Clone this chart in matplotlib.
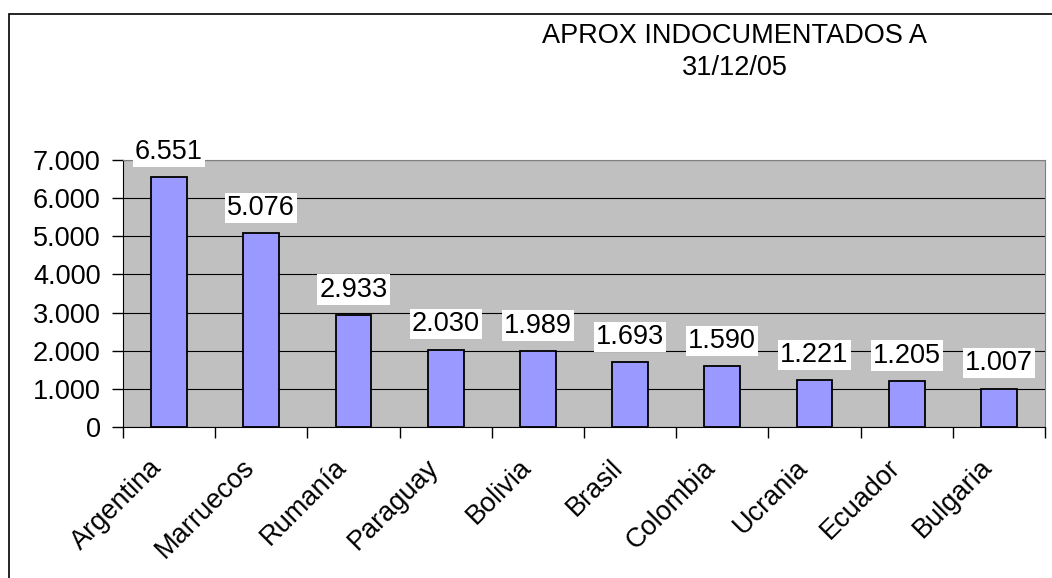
import matplotlib.pyplot as plt
import matplotlib.transforms as mtransforms
from matplotlib.patches import Rectangle
from matplotlib.ticker import FuncFormatter, MultipleLocator

plt.rcParams['font.family'] = ['Liberation Sans', 'DejaVu Sans']

paises = ['Argentina', 'Marruecos', 'Rumanía', 'Paraguay', 'Bolivia',
          'Brasil', 'Colombia', 'Ucrania', 'Ecuador', 'Bulgaria']
indocumentados = [6551, 5076, 2933, 2030, 1989, 1693, 1590, 1221, 1205, 1007]
titulo = 'APROX INDOCUMENTADOS A\n31/12/05'


def miles(v, pos=None):
    return f"{int(v):,}".replace(',', '.')


W, H = 1052, 578
fs = 19.5
fig = plt.figure(figsize=(W / 100, H / 100), dpi=100)
fig.patch.set_facecolor('white')

# outer chart frame (right and bottom edges fall outside the picture)
fig.add_artist(Rectangle((9 / W, -0.2), 1.2, 1.2 - 14 / H, transform=fig.transFigure,
                         fill=False, edgecolor='black', linewidth=1.2))

ax = fig.add_axes([123 / W, 1 - 427 / H, (1045 - 123) / W, (427 - 160) / H])
ax.set_facecolor('#c0c0c0')

x = range(len(paises))
ax.bar(x, indocumentados, width=0.39, color='#9999ff',
       edgecolor='black', linewidth=1.3, zorder=3)

for xi, v in zip(x, indocumentados):
    ax.annotate(miles(v), (xi, v), xytext=(0, 9), textcoords='offset points',
                ha='center', va='bottom', fontsize=fs, zorder=4,
                bbox=dict(facecolor='white', edgecolor='none', pad=1.5),
                annotation_clip=False)

ax.set_xlim(-0.5, len(paises) - 0.5)
ax.set_ylim(0, 7000)
ax.yaxis.set_major_locator(MultipleLocator(1000))
ax.yaxis.set_major_formatter(FuncFormatter(miles))
ax.grid(axis='y', color='black', linewidth=0.8, zorder=1)

ax.set_xticks([i - 0.5 for i in range(len(paises) + 1)])
ax.set_xticklabels([])
ax.set_xticks(list(x), minor=True)
ax.set_xticklabels(paises, minor=True, rotation=45, ha='right',
                   rotation_mode='anchor', fontsize=fs)
ax.tick_params(axis='x', which='minor', length=0, pad=14)
ax.tick_params(axis='x', which='major', length=8, width=1, direction='out')
ax.tick_params(axis='y', length=8, width=1, labelsize=fs, pad=8)

# shift category labels a bit left and down, like the original
shift = mtransforms.ScaledTranslation(-20 / 100, -8 / 100, fig.dpi_scale_trans)
for lab in ax.get_xticklabels(minor=True):
    lab.set_transform(lab.get_transform() + shift)

for s in ['top', 'right']:
    ax.spines[s].set_color('#808080')
for s in ['left', 'bottom']:
    ax.spines[s].set_color('black')

fig.text(735 / W, 1 - 52 / H, titulo, ha='center', va='center',
         fontsize=fs, linespacing=1.3)

fig.savefig('out.png', dpi=100)
